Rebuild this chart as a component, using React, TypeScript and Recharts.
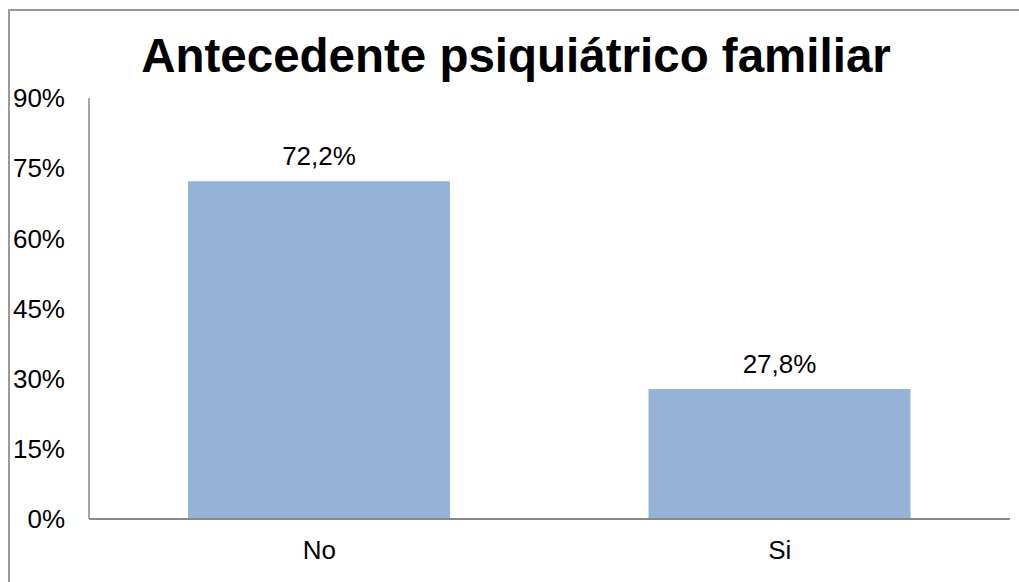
import { BarChart, Bar, XAxis, YAxis, LabelList } from 'recharts';

const categories = ['No', 'Si'];
const percentages = [72.2, 27.8];
const yTicks = [0, 15, 30, 45, 60, 75, 90];
const title = 'Antecedente psiquiátrico familiar';

const chartData = categories.map((name, i) => ({ name, value: percentages[i] }));

const font = '"Liberation Sans", Arial, sans-serif';

export default function App() {
  return (
    <div
      style={{
        position: 'fixed',
        left: 0,
        top: 0,
        width: 1019,
        height: 582,
        overflow: 'hidden',
        background: '#fff',
        fontFamily: font,
      }}
    >
      <div style={{ position: 'absolute', left: 0, top: 0 }}>
        <BarChart
          width={1019}
          height={582}
          data={chartData}
          margin={{ top: 98, right: 9, left: 0, bottom: 23 }}
          barCategoryGap="21.5%"
        >
          <XAxis
            dataKey="name"
            height={40}
            axisLine={{ stroke: '#888', strokeWidth: 2 }}
            tickLine={false}
            tickSize={0}
            tickMargin={22}
            tick={{ fill: '#000', fontSize: 26, fontFamily: font }}
          />
          <YAxis
            width={89}
            domain={[0, 90]}
            ticks={yTicks}
            interval={0}
            tickFormatter={(v: number) => `${v}%`}
            axisLine={{ stroke: '#888', strokeWidth: 1.5 }}
            tickLine={false}
            tickSize={0}
            tickMargin={24}
            tick={{ fill: '#000', fontSize: 26, fontFamily: font }}
          />
          <Bar dataKey="value" fill="#95B3D7" isAnimationActive={false}>
            <LabelList
              dataKey="value"
              position="top"
              offset={16}
              formatter={(v: number) => `${v.toFixed(1).replace('.', ',')}%`}
              style={{ fill: '#000', fontSize: 26, fontFamily: font }}
            />
          </Bar>
        </BarChart>
      </div>
      <svg width={1019} height={582} style={{ position: 'absolute', left: 0, top: 0, pointerEvents: 'none' }}>
        {/* chart frame: only its top and left edges fall inside the picture */}
        <rect x={1012} y={12} width={7} height={570} fill="#fff" />
        <line x1={8} y1={10} x2={1019} y2={10} stroke="#999" strokeWidth={2} />
        <line x1={9} y1={9} x2={9} y2={582} stroke="#999" strokeWidth={2} />
        <text
          x={516}
          y={72}
          textAnchor="middle"
          fontSize={47.5}
          fontWeight="bold"
          fontFamily={font}
          fill="#000"
        >
          {title}
        </text>
      </svg>
    </div>
  );
}
